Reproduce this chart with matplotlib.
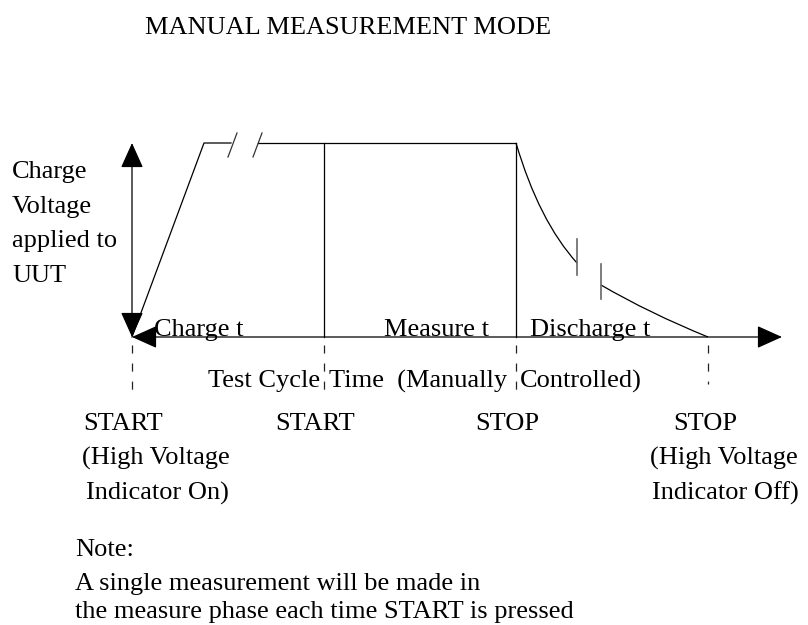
import matplotlib
matplotlib.use("Agg")
import matplotlib.pyplot as plt
from matplotlib.path import Path
from matplotlib.patches import PathPatch

plt.rcParams['font.family'] = ['Liberation Serif', 'DejaVu Serif']
plt.rcParams['lines.scale_dashes'] = False

# diagram geometry (pixel units of the 808x625 canvas, y grows downward)
phase_x = [132, 324, 516, 708]      # START, START, STOP, STOP
zero_y = 337                        # time axis / zero voltage
top_y = 143                         # full charge voltage
ramp_top_x = 204
axis_end_x = 782
dash_end_y = [390, 398, 398, 384]

# break marks on the top plateau
top_break_x = [231, 258]
slash_bottom = [(228, 157), (253, 157)]
slash_top = [(237, 133), (262, 133)]

# discharge curve, two pieces with a break between them
curve1 = [(516, 143), (539, 221), (577, 263)]
curve2 = [(601, 285), (649, 313), (708, 337)]
break_ticks_x = [577, 601]
break_ticks_y = [(239, 275), (264, 299)]

title = "MANUAL MEASUREMENT MODE"
ylabel_lines = ["Charge", "Voltage", "applied to", "UUT"]
ylabel_y = [172, 207, 241, 276]
phase_labels = ["Charge t", "Measure t", "Discharge t"]
phase_label_x = [154, 384, 530]
# "Test Cycle Time  (Manually Controlled)" split around the dashed markers
cycle_parts = ["Test Cycle", "Time  (Manually", "Controlled)"]
cycle_part_x = [320, 329, 520]
cycle_part_ha = ["right", "left", "left"]
marker_labels = ["START", "START", "STOP", "STOP"]
marker_label_x = [83, 275, 475, 673]
left_note = ["(High Voltage", "Indicator On)"]
left_note_x = [82, 86]
right_note = ["(High Voltage", "Indicator Off)"]
right_note_x = [650, 652]
note_rows_y = [458, 493]
note_lines = ["Note:", "A single measurement will be made in",
              "the measure phase each time START is pressed"]
note_lines_y = [550, 584, 612]

fs = 19
lw = 0.9

fig = plt.figure(figsize=(8.08, 6.25), dpi=100)
ax = fig.add_axes([0, 0, 1, 1])
ax.set_xlim(0, 808)
ax.set_ylim(625, 0)
ax.axis('off')

arrow = '<|-|>,head_length=1.58,head_width=0.71'
# voltage axis
ax.annotate('', xy=(phase_x[0], top_y), xytext=(phase_x[0], zero_y),
            arrowprops=dict(arrowstyle=arrow, mutation_scale=10, color='black',
                            lw=lw, shrinkA=0, shrinkB=0))
# time axis
ax.annotate('', xy=(axis_end_x, zero_y), xytext=(phase_x[0], zero_y),
            arrowprops=dict(arrowstyle=arrow, mutation_scale=10, color='black',
                            lw=lw, shrinkA=0, shrinkB=0))

# charge ramp and plateau
ax.plot([phase_x[0], ramp_top_x, top_break_x[0]], [zero_y, top_y, top_y], color='black', lw=lw)
ax.plot([top_break_x[1], phase_x[2]], [top_y, top_y], color='black', lw=lw)
for b, t in zip(slash_bottom, slash_top):
    ax.plot([b[0], t[0]], [b[1], t[1]], color='#333333', lw=lw)

# measure boundaries
for x in phase_x[1:3]:
    ax.plot([x, x], [top_y, zero_y], color='black', lw=lw)

# discharge curve
codes = [Path.MOVETO, Path.CURVE3, Path.CURVE3]
for pts in (curve1, curve2):
    ax.add_patch(PathPatch(Path(pts, codes), fill=False, color='black', lw=lw))
for x, (y0, y1) in zip(break_ticks_x, break_ticks_y):
    ax.plot([x, x], [y0, y1], color='#666666', lw=1.2)

# dashed markers
for x, y1 in zip(phase_x, dash_end_y):
    ax.plot([x, x], [zero_y + 8, y1], color='#222222', lw=lw, dashes=(5.8, 7.2))

# text
ax.text(145, 28, title, fontsize=fs, va='center', ha='left')
for s, y in zip(ylabel_lines, ylabel_y):
    ax.text(12, y, s, fontsize=fs, va='center', ha='left')
for s, x in zip(phase_labels, phase_label_x):
    ax.text(x, 330, s, fontsize=fs, va='center', ha='left')
for s, x, ha in zip(cycle_parts, cycle_part_x, cycle_part_ha):
    ax.text(x, 381, s, fontsize=fs, va='center', ha=ha)
for s, x in zip(marker_labels, marker_label_x):
    ax.text(x, 424, s, fontsize=fs, va='center', ha='left')
for s, x, y in zip(left_note, left_note_x, note_rows_y):
    ax.text(x, y, s, fontsize=fs, va='center', ha='left')
for s, x, y in zip(right_note, right_note_x, note_rows_y):
    ax.text(x, y, s, fontsize=fs, va='center', ha='left')
for s, y in zip(note_lines, note_lines_y):
    ax.text(75, y, s, fontsize=fs, va='center', ha='left')

fig.savefig("out.png", dpi=100)
